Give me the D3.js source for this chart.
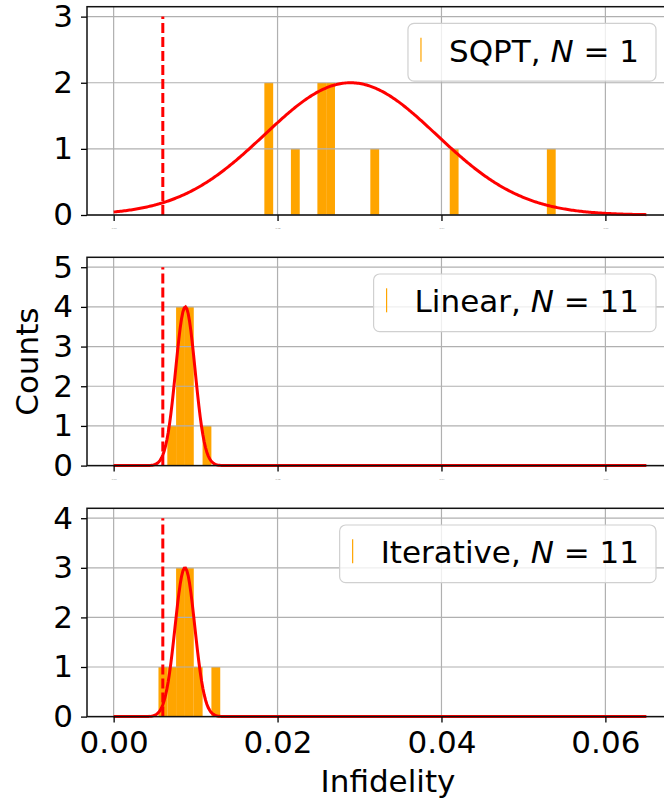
<!DOCTYPE html>
<html lang="en">
<head>
<meta charset="UTF-8">
<title>Infidelity histograms</title>
<script src="https://d3js.org/d3.v7.min.js"></script>
<style>
    body { margin: 0; background: #fff; }
    svg { display: block; font-family: "DejaVu Sans", sans-serif; }
</style>
</head>
<body>
<svg width="664" height="805"></svg>
<script>
    // histogram bins (left edges, shared width) and counts
    let binWidth = 0.001077
    let sqptBins = [0.01839, 0.02163, 0.02486, 0.02593, 0.03132, 0.04101, 0.05286]
    let sqptCounts = [2, 1, 2, 2, 1, 1, 1]
    let linearBins = [0.00655, 0.00762, 0.00870, 0.01085]
    let linearCounts = [1, 4, 4, 1]
    let iterBins = [0.00547, 0.00655, 0.00762, 0.00870, 0.00978, 0.01193]
    let iterCounts = [1, 1, 3, 3, 1, 1]

    // gaussian fits, scaled to the highest bin
    let fitMeans = [0.0289, 0.00875, 0.0087]
    let fitSigmas = [0.0105, 0.00118, 0.0012]
    let fitRange = [0, 0.065]
    let threshold = 0.006

    let methods = ["SQPT", "Linear", "Iterative"]
    let sampleN = [1, 11, 11]
    let xTicks = [0, 0.02, 0.04, 0.06]

    let panels = [
        {bins: sqptBins, counts: sqptCounts},
        {bins: linearBins, counts: linearCounts},
        {bins: iterBins, counts: iterCounts}
    ]

    let svg = d3.select('svg')
    let fontSize = 31
    let left = 87, right = 673
    let tops = [6.7, 257.3, 508.3]
    let panelH = 208.3

    let x = d3.scaleLinear().domain([-0.00325, 0.06825]).range([left, right])

    panels.forEach(function (p, i) {
        let top = tops[i], bottom = top + panelH
        let maxCount = d3.max(p.counts)
        let y = d3.scaleLinear().domain([0, (maxCount + 1) * 1.05]).range([bottom, top])
        let g = svg.append("g")

        // bars
        g.append("g").selectAll("rect")
            .data(p.bins)
            .enter()
            .append("rect")
            .attr("x", d => x(d))
            .attr("width", d => x(d + binWidth) - x(d))
            .attr("y", (d, j) => y(p.counts[j]))
            .attr("height", (d, j) => y(0) - y(p.counts[j]))
            .attr("fill", "#ffa500")

        // grid (drawn above the bars, like matplotlib)
        let yTicks = d3.range(0, maxCount + 2)
        g.append("g").selectAll("line.gy")
            .data(yTicks)
            .enter()
            .append("line")
            .attr("x1", left).attr("x2", right)
            .attr("y1", d => y(d)).attr("y2", d => y(d))
            .attr("stroke", "#b0b0b0").attr("stroke-width", 1.2)
        g.append("g").selectAll("line.gx")
            .data(xTicks)
            .enter()
            .append("line")
            .attr("x1", d => x(d)).attr("x2", d => x(d))
            .attr("y1", top).attr("y2", bottom)
            .attr("stroke", "#b0b0b0").attr("stroke-width", 1.2)

        // gaussian fit
        let mu = fitMeans[i], sd = fitSigmas[i]
        let xs = d3.range(0, 401).map(k => fitRange[0] + k * (fitRange[1] - fitRange[0]) / 400)
        let line = d3.line()
            .x(d => x(d))
            .y(d => y(maxCount * Math.exp(-((d - mu) ** 2) / (2 * sd * sd))))
        g.append("path")
            .datum(xs)
            .attr("d", line)
            .attr("fill", "none")
            .attr("stroke", "#ff0000")
            .attr("stroke-width", 3)

        // threshold line
        g.append("line")
            .attr("x1", x(threshold)).attr("x2", x(threshold))
            .attr("y1", y(0)).attr("y2", y(maxCount + 1))
            .attr("stroke", "#ff0000")
            .attr("stroke-width", 3)
            .attr("stroke-dasharray", "10,4")

        // axes
        let yAxis = g.append("g")
            .attr("transform", `translate(${left},0)`)
            .call(d3.axisLeft(y).tickValues(yTicks).tickSize(6).tickPadding(8).tickFormat(d3.format("d")))
        yAxis.select(".domain").remove()
        yAxis.selectAll("text").attr("font-size", fontSize).attr("font-family", "DejaVu Sans").attr("fill", "#000")
        yAxis.selectAll("line").attr("stroke", "#000").attr("stroke-width", 1.3)

        let xAxis = g.append("g")
            .attr("transform", `translate(0,${bottom})`)
            .call(d3.axisBottom(x).tickValues(xTicks).tickSize(6).tickPadding(8).tickFormat(d3.format(".2f")))
        xAxis.select(".domain").remove()
        xAxis.selectAll("line").attr("stroke", "#000").attr("stroke-width", 1.3)
        if (i < 2) {
            // the upper panels carry only tiny, unreadable tick labels
            xAxis.selectAll("text").attr("font-size", 2.5).attr("fill", "#888").attr("dy", 0)
        } else {
            xAxis.selectAll("text").attr("font-size", fontSize).attr("font-family", "DejaVu Sans").attr("fill", "#000").attr("dy", "0.72em")
        }

        // spines
        g.append("rect")
            .attr("x", left).attr("y", top)
            .attr("width", right - left).attr("height", panelH)
            .attr("fill", "none")
            .attr("stroke", "#111")
            .attr("stroke-width", 1.5)

        // legend
        let leg = g.append("g")
        let box = leg.append("rect")
        let txt = leg.append("text")
            .attr("x", 639).attr("y", top + 55)
            .attr("text-anchor", "end")
            .attr("font-size", fontSize)
            .attr("fill", "#000")
        txt.append("tspan").text(methods[i] + ", ")
        txt.append("tspan").attr("font-style", "italic").text("N")
        txt.append("tspan").text(" = " + sampleN[i])
        let tw = txt.node().getComputedTextLength()
        let handleX = 639 - tw - 28
        leg.append("line")
            .attr("x1", handleX).attr("x2", handleX)
            .attr("y1", top + 31).attr("y2", top + 55)
            .attr("stroke", "#ffa500").attr("stroke-width", 1.2)
        box.attr("x", handleX - 13).attr("y", top + 16.7)
            .attr("width", 656 - (handleX - 13)).attr("height", 57.7)
            .attr("rx", 6)
            .attr("fill", "#fff").attr("fill-opacity", 0.8)
            .attr("stroke", "#d0d0d0").attr("stroke-width", 1.2)
    })

    // axis titles
    svg.append("text")
        .attr("transform", `translate(38,${(tops[0] + tops[2] + panelH) / 2}) rotate(-90)`)
        .attr("text-anchor", "middle")
        .attr("font-size", fontSize)
        .text("Counts")

    svg.append("text")
        .attr("x", (x(0) + x(0.065)) / 2 + 8)
        .attr("y", 792)
        .attr("text-anchor", "middle")
        .attr("font-size", fontSize)
        .text("Infidelity")
</script>
</body>
</html>
